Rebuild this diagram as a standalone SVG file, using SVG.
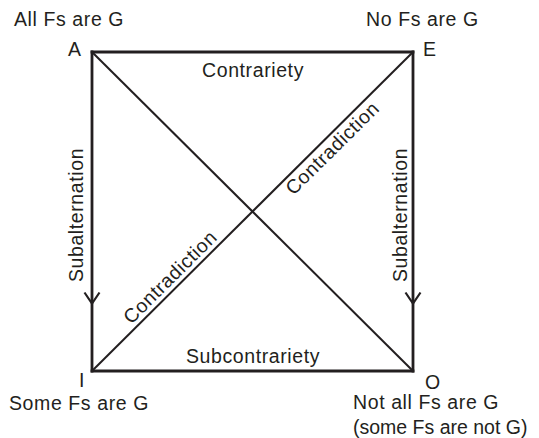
<svg xmlns="http://www.w3.org/2000/svg" width="539" height="438" viewBox="0 0 539 438">
<style>
text{font-family:"Liberation Sans",Arial,Helvetica,sans-serif;font-size:19.5px;fill:#231f20;letter-spacing:0.6px}
.edge{stroke:#231f20;stroke-width:2.8;fill:none;stroke-linecap:square}
.diag{stroke:#231f20;stroke-width:2;fill:none}
.arrow{stroke:#231f20;stroke-width:2.2;fill:none}
.mid{text-anchor:middle}
.tight{letter-spacing:0}
</style>
<rect width="539" height="438" fill="#ffffff"/>
<g id="connectors">
<line class="edge" x1="92" y1="52" x2="413" y2="52"/>
<line class="edge" x1="92" y1="371" x2="413" y2="371"/>
<line class="edge" x1="92" y1="52" x2="92" y2="371"/>
<line class="edge" x1="413" y1="52" x2="413" y2="371"/>
<line class="diag" x1="92" y1="52" x2="413" y2="371"/>
<line class="diag" x1="92" y1="371" x2="413" y2="52"/>
<polyline class="arrow" points="84.5,292.5 92,303.5 99.5,292.5"/>
<polyline class="arrow" points="405.5,292.5 413,303.5 420.5,292.5"/>
<text class="mid" x="253" y="77">Contrariety</text>
<text class="mid" x="253" y="363">Subcontrariety</text>
<text class="mid" transform="translate(83,215) rotate(-90)">Subalternation</text>
<text class="mid" transform="translate(407,215) rotate(-90)">Subalternation</text>
<text class="mid" transform="translate(178.3,285.3) rotate(-44.8)" y="-5">Contradiction</text>
<text class="mid" transform="translate(324.3,140.1) rotate(-44.8)" y="18">Contradiction</text>
</g>
<g id="node-A">
<text x="68" y="56">A</text>
<text x="14" y="26">All Fs are G</text>
</g>
<g id="node-E">
<text x="423" y="56">E</text>
<text x="366" y="26">No Fs are G</text>
</g>
<g id="node-I">
<text x="79" y="387">I</text>
<text x="9" y="410">Some Fs are G</text>
</g>
<g id="node-O">
<text x="425" y="389">O</text>
<text x="353" y="409">Not all Fs are G</text>
<text x="353" y="434" class="tight">(some Fs are not G)</text>
</g>
</svg>
